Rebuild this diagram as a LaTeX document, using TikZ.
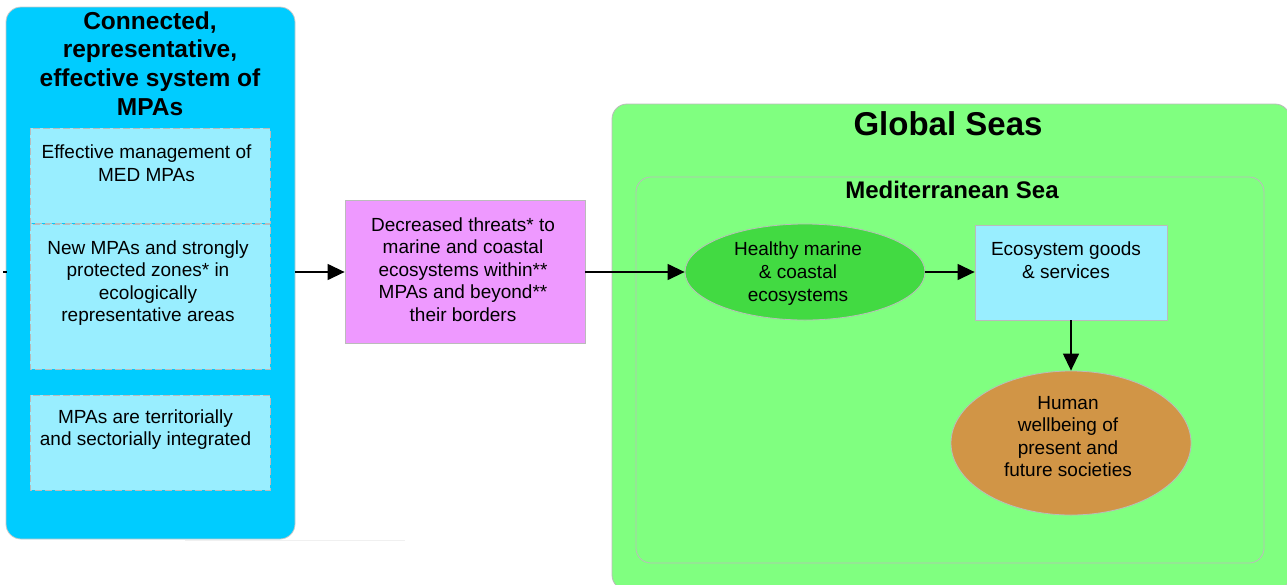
\documentclass[tikz,border=0pt]{standalone}
\usepackage{fontspec}
\setmainfont{Liberation Sans}
\usetikzlibrary{arrows.meta,shapes.geometric}
\definecolor{mpablue}{HTML}{00CCFF}
\definecolor{paleblue}{HTML}{99EEFF}
\definecolor{threatpink}{HTML}{EE99FF}
\definecolor{seagreen}{HTML}{80FF80}
\definecolor{ecogreen}{HTML}{42DA42}
\definecolor{humanbrown}{HTML}{D19546}
\definecolor{edgegray}{HTML}{BBBBBB}
\tikzset{
  txt/.style={align=center, inner sep=0pt, font=\fontsize{19}{22.5}\selectfont},
  heading/.style={align=center, inner sep=0pt, font=\bfseries\fontsize{24.5}{28.8}\selectfont},
  subbox/.style={draw=edgegray, dash pattern=on 7pt off 3pt, fill=paleblue, line width=1pt},
  plainbox/.style={draw=edgegray, line width=0.8pt},
  arr/.style={-{Triangle[length=17pt,width=16pt]}, line width=1.3pt},
}
\begin{document}
\begin{tikzpicture}[x=1pt,y=-1pt]
\useasboundingbox (0,0) rectangle (1287,584);

% left panel: the MPA system
\draw[draw=edgegray!80, line width=0.8pt, fill=mpablue, rounded corners=15pt] (6,7) rectangle (295,539);
\coordinate (panelE) at (295,272);
\draw[gray!12, line width=0.8pt] (185,540.5) -- (405,540.5);
\node[heading] (title) at (150,63.5) {Connected,\\representative,\\effective system of\\MPAs};
\draw[subbox] (30,128) rectangle (270,223);
\node[txt] (mgmt) at (146.5,163) {Effective management of\\MED MPAs};
\draw[subbox] (30,224) rectangle (270,369);
\node[txt] (newmpa) at (148,283) {New MPAs and strongly\\protected zones* in\\ecologically\\representative areas};
\draw[subbox] (30,395) rectangle (270,490);
\node[txt] (integ) at (145.5,429.5) {MPAs are territorially\\and sectorially integrated};

% incoming stub on the left edge
\coordinate (stubA) at (3,272);
\coordinate (stubB) at (7,272);
\draw[line width=1.3pt] (stubA) -- (stubB);

% threats box
\node[plainbox, fill=threatpink, minimum width=240pt, minimum height=143pt, inner sep=0pt] (threat) at (465,272) {};
\node[txt] (threattxt) at (463,269.5) {Decreased threats* to\\marine and coastal\\ecosystems within**\\MPAs and beyond**\\their borders};

% global and Mediterranean seas
\draw[draw=edgegray, line width=0.8pt, fill=seagreen, rounded corners=15pt] (612,104) rectangle (1290,590);
\node[align=center, inner sep=0pt, font=\bfseries\fontsize{33}{38}\selectfont] (global) at (948,124) {Global Seas};
\draw[draw=edgegray, line width=0.8pt, rounded corners=15pt] (636,177) rectangle (1264,563);
\node[align=center, inner sep=0pt, font=\bfseries\fontsize{24}{28}\selectfont] (med) at (952,190) {Mediterranean Sea};

\node[ellipse, plainbox, fill=ecogreen, minimum width=240pt, minimum height=96pt, inner sep=0pt] (eco) at (805,272) {};
\node[txt, font=\fontsize{19}{23}\selectfont] (ecotxt) at (798,274) {Healthy marine\\\& coastal\\ecosystems};

\node[plainbox, fill=paleblue, minimum width=192pt, minimum height=95pt, inner sep=0pt] (goods) at (1071,272.5) {};
\node[txt] (goodstxt) at (1066,260) {Ecosystem goods\\\& services};

\node[ellipse, plainbox, fill=humanbrown, minimum width=240pt, minimum height=144pt, inner sep=0pt] (human) at (1071,443) {};
\node[txt] (humantxt) at (1068,436.5) {Human\\wellbeing of\\present and\\future societies};

% connectors
\draw[arr] (panelE) -- (panelE -| threat.west);
\draw[arr] (threat.east) -- (threat.east -| eco.west);
\draw[arr] (eco.east) -- (eco.east -| goods.west);
\draw[arr] (goods.south) -- (human.north);
\end{tikzpicture}
\end{document}
